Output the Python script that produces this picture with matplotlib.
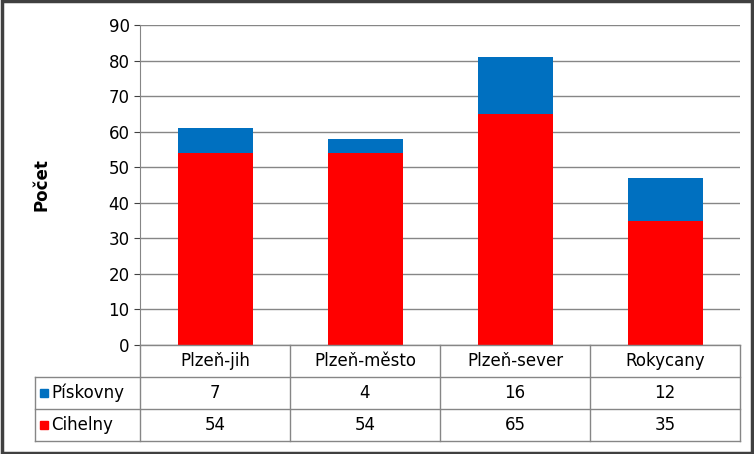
import matplotlib
matplotlib.use("Agg")
import matplotlib.pyplot as plt
from matplotlib.patches import Rectangle

categories = ["Plzeň-jih", "Plzeň-město", "Plzeň-sever", "Rokycany"]
cihelny = [54, 54, 65, 35]
piskovny = [7, 4, 16, 12]
series_names = ["Pískovny", "Cihelny"]
yticks = list(range(0, 100, 10))

W, H = 754, 454
fig = plt.figure(figsize=(W / 100, H / 100), dpi=100)
plt.rcParams["font.family"] = "DejaVu Sans"

ax = fig.add_axes([140 / W, (H - 345) / H, 600 / W, 320 / H])
x = range(len(categories))
ax.bar(x, cihelny, width=0.5, color="#FF0000", zorder=3)
ax.bar(x, piskovny, width=0.5, bottom=cihelny, color="#0070C0", zorder=3)
ax.set_xlim(-0.5, 3.5)
ax.set_ylim(0, 90)
ax.set_yticks(yticks)
ax.tick_params(axis="y", labelsize=12, direction="out", length=4, colors="#404040", labelcolor="black")
ax.set_xticks([])
ax.grid(axis="y", color="#868686", linewidth=1, zorder=0)
for s in ["top", "right", "bottom"]:
    ax.spines[s].set_visible(False)
ax.spines["left"].set_color("#868686")
fig.text(42 / W, 1 - 185 / H, "Počet", rotation=90, fontsize=12, fontweight="bold",
         ha="center", va="center")

# data table
tab = fig.add_axes([35 / W, (H - 441) / H, 705 / W, 96 / H])
tab.set_xlim(35, 740)
tab.set_ylim(441, 345)
tab.axis("off")
lc = "#868686"
tab.plot([140, 740], [345, 345], color=lc, lw=1, clip_on=False)
for yy in [377, 409, 441]:
    tab.plot([35, 740], [yy, yy], color=lc, lw=1, clip_on=False)
for xx in [140, 290, 440, 590, 740]:
    tab.plot([xx, xx], [345, 441], color=lc, lw=1, clip_on=False)
tab.plot([35, 35], [377, 441], color=lc, lw=1, clip_on=False)
for i, c in enumerate(categories):
    cx = 215 + 150 * i
    tab.text(cx, 361, c, ha="center", va="center", fontsize=12)
    tab.text(cx, 393, str(piskovny[i]), ha="center", va="center", fontsize=12)
    tab.text(cx, 425, str(cihelny[i]), ha="center", va="center", fontsize=12)
for yy, name, col in [(393, series_names[0], "#0070C0"), (425, series_names[1], "#FF0000")]:
    tab.add_patch(Rectangle((40, yy - 4), 8, 8, color=col))
    tab.text(51, yy, name, ha="left", va="center", fontsize=12)

fig.patches.append(Rectangle((0.002, 0.003), 0.996, 0.994, transform=fig.transFigure,
                             fill=False, edgecolor="#404040", linewidth=2.5))
fig.savefig("out.png", dpi=100)
